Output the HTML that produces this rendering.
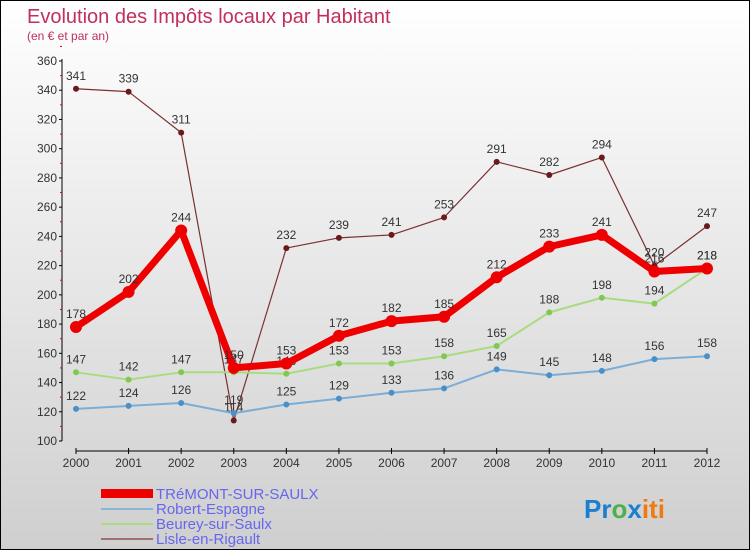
<!DOCTYPE html>
<html><head><meta charset="utf-8"><style>
body{margin:0;}
#wrap{width:748px;height:548px;border:1px solid #000;background:linear-gradient(#ffffff,#cfcfcf);position:relative;overflow:hidden;font-family:"Liberation Sans",sans-serif;}
svg{position:absolute;left:0;top:0;}
</style></head><body>
<div id="wrap">
<svg id="chart" width="750" height="550">
<text x="26" y="22" font-size="20" fill="#c0305a">Evolution des Impôts locaux par Habitant</text>
<text x="26" y="39" font-size="12" fill="#c0305a">(en € et par an)</text>
<g id="axes"></g><g id="series"></g>
<g>
<rect x="100" y="488" width="52" height="9" fill="#e00"/>
<text x="155" y="498" font-size="15" fill="#6666ee">TRéMONT-SUR-SAULX</text>
<line x1="100" y1="508" x2="152" y2="508" stroke="#8ab4d8" stroke-width="2"/>
<text x="155" y="513" font-size="15" fill="#6666ee">Robert-Espagne</text>
<line x1="100" y1="523" x2="152" y2="523" stroke="#a8dc80" stroke-width="2"/>
<text x="155" y="528" font-size="15" fill="#6666ee">Beurey-sur-Saulx</text>
<line x1="100" y1="538" x2="152" y2="538" stroke="#a07070" stroke-width="2"/>
<text x="155" y="543" font-size="15" fill="#6666ee">Lisle-en-Rigault</text>
</g>
<text x="583" y="517" font-size="26" font-weight="bold"><tspan fill="#1a7fd0">Pr</tspan><tspan fill="#4caf50">o</tspan><tspan fill="#1a7fd0">x</tspan><tspan fill="#f07a10">iti</tspan></text>
</svg></div>
<script>
const years=[2000,2001,2002,2003,2004,2005,2006,2007,2008,2009,2010,2011,2012];
const yTicks=[100,120,140,160,180,200,220,240,260,280,300,320,340,360];
const tremont=[178,202,244,150,153,172,182,185,212,233,241,216,218];
const robert=[122,124,126,119,125,129,133,136,149,145,148,156,158];
const beurey=[147,142,147,147,146,153,153,158,165,188,198,194,218];
const lisle=[341,339,311,114,232,239,241,253,291,282,294,220,247];
const NS="http://www.w3.org/2000/svg";
const X=i=>75+i*(706-75)/(years.length-1);
const Y=v=>440-(v-100)*(380/260);
function mk(t,a,p){const e=document.createElementNS(NS,t);for(const k in a)e.setAttribute(k,a[k]);p.appendChild(e);return e;}
const ax=document.getElementById('axes');
let e=mk('line',{x1:61,y1:58,x2:61,y2:440,stroke:'#000'},ax);


e=mk('line',{x1:75,y1:450,x2:706,y2:450,stroke:'#000'},ax);


yTicks.forEach(v=>{
 mk('line',{x1:58,y1:Y(v),x2:61,y2:Y(v),stroke:'#000'},ax);
 mk('line',{x1:59,y1:Y(v+10),x2:61,y2:Y(v+10),stroke:'#e00'},ax);
 const t=mk('text',{x:56,y:Y(v)+4,'font-size':12,fill:'#333','text-anchor':'end'},ax);t.textContent=v;
 
 
});
years.forEach((y,i)=>{
 mk('line',{x1:X(i),y1:447,x2:X(i),y2:453,stroke:'#000'},ax);
 const t=mk('text',{x:X(i),y:466,'font-size':12,fill:'#333','text-anchor':'middle'},ax);t.textContent=y;
 
 
});
const sg=document.getElementById('series');
function series(data,name,color,w,r,dot){
 const g=mk('g',{},sg);
 
 
 mk('polyline',{points:data.map((v,i)=>X(i)+','+Y(v)).join(' '),fill:'none',stroke:color,'stroke-width':w,'stroke-linejoin':'round'},g);
 data.forEach((v,i)=>{
  const c=mk('circle',{cx:X(i),cy:Y(v),r:r,fill:dot},g);
  
  
  const t=mk('text',{x:X(i),y:Y(v)-9,'font-size':12,fill:'#333','text-anchor':'middle'},g);t.textContent=v;
  
  
 });
}
series(lisle,'lisle','#7a3030',1.2,3,'#6a1a1a');
series(beurey,'beurey','#a8dc80',2,3,'#80c850');
series(robert,'robert','#7aaed8',2,3,'#4a90c8');
series(tremont,'tremont','#ee0000',7,6,'#ee0000');
</script>
</body></html>
